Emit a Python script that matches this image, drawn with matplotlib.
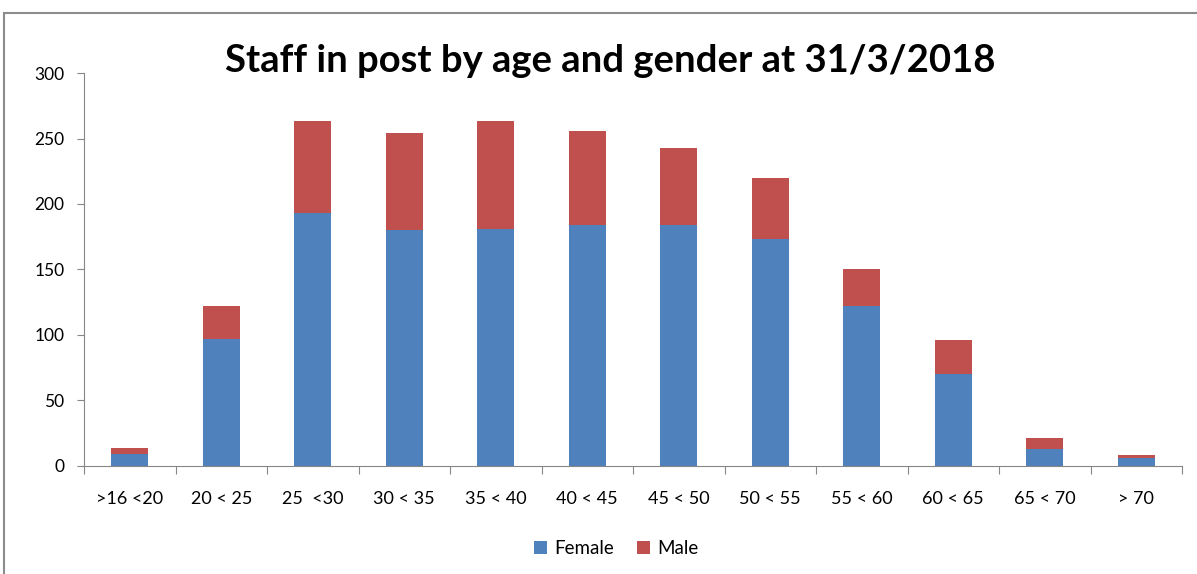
import matplotlib
matplotlib.use('Agg')
import matplotlib.pyplot as plt
import numpy as np
from matplotlib.patches import Rectangle

# Data
age_bands = ['>16 <20', '20 < 25', '25  <30', '30 < 35', '35 < 40', '40 < 45',
             '45 < 50', '50 < 55', '55 < 60', '60 < 65', '65 < 70', '> 70']
female = [9, 97, 193, 180, 181, 184, 184, 173, 122, 70, 13, 6]
male = [5, 25, 70, 74, 82, 72, 59, 47, 28, 26, 8, 2]

plt.rcParams['font.family'] = ['Lato', 'DejaVu Sans']

fig = plt.figure(figsize=(11.97, 5.74), dpi=100)
ax = fig.add_axes([0.0702, 0.1882, 0.9173, 0.6846])

# outer chart frame (cut off on right and bottom like the screenshot)
fig.patches.append(Rectangle((4 / 1197, -0.1), 1.2, 1.1 - 13 / 574,
                             transform=fig.transFigure, fill=False,
                             edgecolor='#8c8c8c', linewidth=1.5))

x = np.arange(len(age_bands))
ax.bar(x, female, width=0.4, color='#4F81BD', label='Female')
ax.bar(x, male, width=0.4, bottom=female, color='#C0504D', label='Male')

ax.set_xlim(-0.5, len(age_bands) - 0.5)
ax.set_ylim(0, 300)
ax.set_yticks(range(0, 301, 50))

# category boundary ticks on x, labels on minor ticks at the centres
ax.set_xticks(np.arange(-0.5, len(age_bands), 1))
ax.set_xticklabels([])
ax.set_xticks(x, minor=True)
ax.set_xticklabels(age_bands, minor=True)
ax.tick_params(axis='x', which='major', length=6, color='#868686')
ax.tick_params(axis='x', which='minor', length=0, pad=18, labelsize=13)
ax.tick_params(axis='y', length=5, color='#868686', pad=9, labelsize=12.5)

for s in ['top', 'right']:
    ax.spines[s].set_visible(False)
for s in ['left', 'bottom']:
    ax.spines[s].set_color('#868686')

fig.text(0.51, 0.893, 'Staff in post by age and gender at 31/3/2018',
         ha='center', va='center', fontsize=27.5, fontweight='bold')

fig.legend(loc='center', bbox_to_anchor=(0.515, 0.045), ncol=2, frameon=False,
           fontsize=13.5, handlelength=0.7, handleheight=0.7,
           handletextpad=0.4, columnspacing=1.2)

fig.savefig('out.png', dpi=100)
